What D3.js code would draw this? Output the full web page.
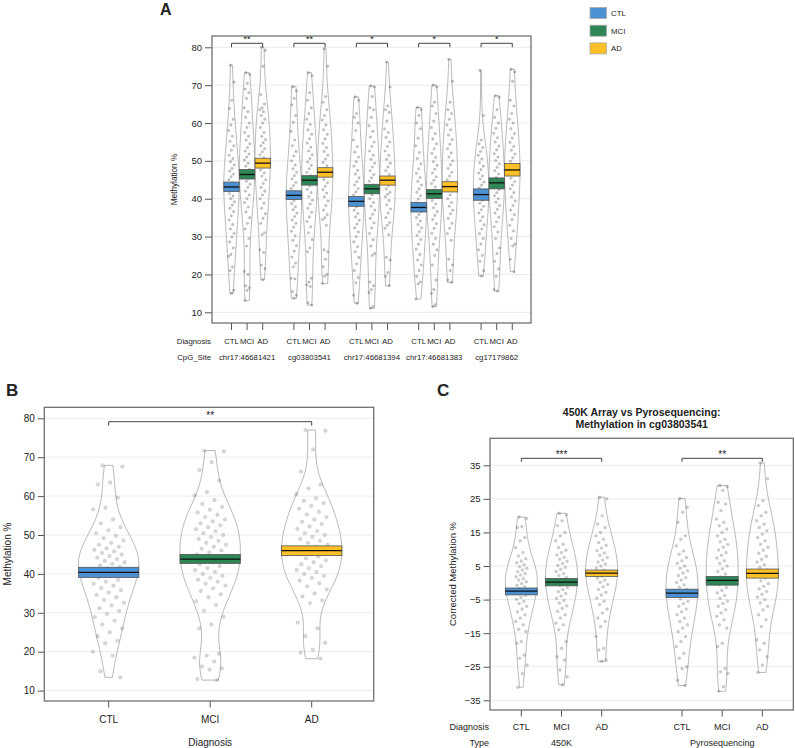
<!DOCTYPE html>
<html><head><meta charset="utf-8">
<script src="https://cdn.jsdelivr.net/npm/d3@7"></script>
<style>body{margin:0;background:#fff}text{font-family:"Liberation Sans",Arial,Helvetica,sans-serif;fill:#222}</style>
</head><body><svg id="c" width="795" height="748"></svg>
<script>
// ---------------- DATA ----------------
const diagnoses = ["CTL","MCI","AD"];
const sitesA = ["chr17:46681421","cg03803541","chr17:46681394","chr17:46681383","cg17179862"];
const starsA = ["**","**","*","*","*"];
const meanA = [[43.1,46.4,49.4],[40.9,44.9,47.0],[39.3,42.6,44.9],[37.7,41.3,43.2],[41.1,44.2,47.6]];
const ciLoA = [[41.9,45.2,48.1],[39.8,43.6,45.7],[38.0,41.3,43.6],[36.5,40.1,41.8],[39.6,42.6,46.0]];
const ciHiA = [[44.4,47.7,50.7],[42.1,46.1,48.2],[40.6,43.8,46.0],[39.0,42.4,44.5],[42.6,45.5,49.3]];
const ticksA = [10,20,30,40,50,60,70,80];
const pointsA = [
 [[75.3,70.8,66.0,63.8,61.0,59.5,58.0,56.5,55.2,54.0,52.8,51.5,50.6,49.8,48.9,48.0,47.3,46.5,45.8,45.0,44.3,43.6,42.9,42.2,41.4,40.7,40.0,39.2,38.3,37.5,36.6,35.5,34.4,33.2,32.0,30.8,29.9,28.6,27.0,25.3,24.8,22.0,21.0,15.8,15.0],
  [73.3,72.8,70.5,69.0,68.0,66.5,64.0,63.0,61.5,60.0,58.8,57.5,56.5,55.5,54.5,53.5,52.6,51.8,51.0,50.2,49.4,48.6,47.8,47.0,46.2,45.4,44.6,43.8,43.0,42.0,41.0,40.0,39.0,37.8,36.5,35.0,33.5,32.0,29.5,27.5,20.8,20.0,17.0,16.5,15.8,13.1],
  [80.0,79.2,75.0,67.5,65.0,64.0,63.5,63.0,62.0,61.0,60.0,58.8,57.5,56.5,55.6,54.8,54.0,53.2,52.4,51.6,50.8,50.0,49.2,48.4,47.6,46.8,46.0,45.0,44.0,43.0,42.0,41.0,40.0,38.8,37.5,36.0,34.8,33.5,31.0,30.5,26.5,25.8,22.5,21.5,18.6]],
 [[69.6,68.5,66.5,64.8,62.0,60.2,57.8,55.5,54.0,52.5,51.3,50.0,48.9,47.9,47.0,46.1,45.2,44.3,43.5,42.7,41.9,41.1,40.3,39.5,38.7,37.9,37.1,36.2,35.3,34.4,33.5,32.5,31.4,30.2,29.0,27.6,26.2,24.6,23.0,22.0,19.0,18.8,15.5,14.5,13.7],
  [73.3,72.5,68.0,66.0,64.0,62.5,61.0,59.6,58.2,57.0,55.8,54.7,53.6,52.6,51.6,50.6,49.7,48.8,47.9,47.0,46.1,45.2,44.3,43.4,42.5,41.6,40.6,39.6,38.6,37.5,36.4,35.2,34.0,32.6,31.0,29.2,27.0,26.0,19.0,18.0,17.2,16.8,12.5,11.9],
  [79.6,75.0,67.0,65.5,63.5,62.0,60.8,59.5,58.2,57.0,55.8,54.6,53.5,52.5,51.5,50.5,49.6,48.7,47.8,46.9,46.0,45.1,44.2,43.3,42.4,41.5,40.5,39.4,38.2,37.0,35.8,35.0,34.5,33.0,26.5,26.0,24.0,22.0,20.0,19.5,17.6]],
 [[66.9,66.0,62.5,61.5,60.0,58.0,55.5,53.8,52.3,51.0,49.8,48.6,47.5,46.5,45.5,44.5,43.6,42.7,41.8,41.0,40.2,39.4,38.6,37.8,37.0,36.1,35.2,34.3,33.3,32.3,31.2,30.0,28.6,27.3,26.0,24.5,22.8,21.0,19.2,17.8,14.5,12.4],
  [69.8,69.5,67.0,64.0,63.5,61.5,59.3,57.8,56.3,55.0,53.8,52.6,51.5,50.4,49.4,48.4,47.4,46.4,45.5,44.6,43.7,42.8,41.9,41.0,40.0,39.0,38.0,37.0,35.9,34.8,33.6,32.3,30.8,29.2,27.5,25.5,25.0,18.0,17.0,16.0,15.2,11.5,11.05],
  [76.1,69.5,64.5,63.5,62.8,60.5,58.5,57.5,56.2,55.0,53.8,52.6,51.5,50.4,49.4,48.4,47.4,46.4,45.4,44.4,43.5,42.6,41.7,41.2,40.5,39.5,38.4,37.3,36.2,35.0,33.7,33.0,32.2,30.5,24.5,23.8,20.5,19.5,17.0]],
 [[64.1,63.5,62.0,60.0,58.5,56.0,54.0,52.2,50.6,49.2,47.9,46.7,45.6,44.6,43.6,42.6,41.7,40.8,39.9,39.0,38.2,37.4,36.6,35.8,35.0,34.1,33.2,32.3,31.3,30.3,29.2,28.0,26.7,25.3,23.8,22.5,21.0,19.5,18.0,17.5,13.5],
  [70.0,69.5,65.5,64.5,62.5,60.5,58.8,57.2,55.8,54.5,53.2,52.0,50.9,49.8,48.8,47.8,46.8,45.8,44.9,44.0,43.1,42.2,41.3,40.4,39.5,38.6,37.6,36.6,35.6,34.5,33.4,32.2,30.9,29.5,28.0,26.5,25.0,22.5,18.5,16.0,15.0,12.0,11.5],
  [76.8,71.0,65.5,63.5,62.5,61.0,59.5,58.2,56.8,55.6,54.4,53.2,52.1,51.0,50.0,49.0,48.0,47.0,46.0,45.0,44.0,43.0,42.0,41.0,40.0,39.0,38.0,37.0,36.0,34.8,33.5,32.2,30.8,29.0,24.0,22.5,21.0,18.5,17.9]],
 [[73.9,62.0,55.5,54.5,53.5,52.5,51.5,50.5,49.5,48.6,47.7,46.8,46.0,45.2,44.4,43.6,42.8,42.0,41.2,40.4,39.6,38.8,38.0,37.1,36.2,35.2,34.2,33.1,32.0,30.8,29.5,28.0,26.5,25.0,23.5,21.0,19.6],
  [67.2,66.8,63.5,61.5,60.0,58.6,57.3,56.1,55.0,53.9,52.9,51.9,51.0,50.1,49.2,48.3,47.4,46.5,45.6,44.8,44.0,43.2,42.4,41.6,40.8,40.0,39.1,38.2,37.2,36.2,35.1,33.9,32.6,31.2,29.5,27.0,25.5,23.5,21.5,19.5,16.0,15.6],
  [74.2,73.5,71.0,66.0,64.5,62.5,61.0,60.0,58.5,57.2,56.0,54.9,53.8,52.8,51.8,50.8,49.9,49.0,48.1,47.2,46.3,45.4,44.5,43.6,42.6,41.6,40.5,39.4,38.2,37.0,35.8,34.5,33.0,31.5,29.5,28.0,27.5,24.0,20.7]]
];

const meanB = [40.4,43.8,46.0];
const ciLoB = [39.1,42.7,44.7];
const ciHiB = [41.7,45.0,47.2];
const starsB = "**";
const ticksB = [10,20,30,40,50,60,70,80];
const pointsB = [
 [67.9,67.6,63.5,63.0,59.6,57.0,56.6,54.0,53.0,52.0,51.2,50.5,49.8,49.2,48.6,48.0,47.5,47.0,46.6,46.2,45.8,45.4,45.0,44.6,44.2,43.8,43.4,43.0,42.6,42.2,41.8,41.4,41.0,40.6,40.2,39.8,39.4,39.0,38.5,38.0,37.5,37.0,36.4,35.8,35.2,34.6,34.0,33.3,32.6,31.9,31.2,30.5,29.7,28.9,28.0,27.0,26.0,25.0,24.0,22.8,22.2,20.0,19.0,15.0,13.4],
 [71.7,71.5,68.7,66.7,64.0,61.0,60.2,59.0,58.0,57.2,56.5,55.8,55.2,54.6,54.0,53.5,53.0,52.5,52.0,51.5,51.0,50.5,50.0,49.5,49.0,48.5,48.0,47.5,47.0,46.5,46.0,45.5,45.0,44.5,44.0,43.5,43.0,42.5,42.0,41.5,41.0,40.5,40.0,39.5,39.0,38.5,38.0,37.5,37.0,36.3,35.6,34.8,34.0,33.0,32.0,30.5,29.0,27.0,26.0,19.5,19.0,18.5,17.5,16.2,15.7,15.4,13.0,12.7],
 [77.0,76.8,72.0,66.3,63.0,62.0,60.5,59.5,58.8,58.2,57.5,56.8,56.0,55.3,54.6,54.0,53.4,52.8,52.2,51.6,51.0,50.5,50.0,49.5,49.0,48.5,48.0,47.5,47.0,46.5,46.0,45.5,45.0,44.5,44.0,43.5,43.0,42.5,42.0,41.5,41.0,40.5,40.0,39.5,39.0,38.3,37.6,36.8,36.0,35.0,34.2,33.2,32.5,27.5,26.0,24.0,22.3,20.5,19.8,18.2]
];

const typesC = ["450K","Pyrosequencing"];
const starsC = ["***","**"];
const meanC = [[-2.5,0.2,2.9],[-3.1,0.7,2.8]];
const ciLoC = [[-3.6,-0.9,1.9],[-4.4,-0.7,1.4]];
const ciHiC = [[-1.55,1.3,3.8],[-1.9,1.9,4.1]];
const ticksC = [-35,-25,-15,-5,5,15,25,35];
const pointsC = [
 [[19.6,19.2,16.8,16.5,13.5,12.5,10.5,9.0,8.0,7.2,6.5,6.0,5.4,4.8,4.3,3.8,3.3,2.8,2.3,1.8,1.3,0.8,0.3,-0.2,-0.7,-1.2,-1.7,-2.2,-2.7,-3.2,-3.7,-4.3,-4.9,-5.5,-6.2,-7.0,-7.8,-8.6,-9.5,-10.5,-11.5,-12.5,-13.8,-14.5,-17.5,-18.0,-21.5,-22.5,-24.5,-27.0,-31.1],
  [20.7,20.3,18.5,17.0,15.0,14.0,12.5,11.5,10.5,9.7,9.0,8.3,7.6,7.0,6.4,5.8,5.2,4.6,4.0,3.4,2.8,2.2,1.6,1.0,0.4,-0.2,-0.8,-1.4,-2.0,-2.6,-3.2,-3.9,-4.6,-5.3,-6.0,-6.8,-7.6,-8.5,-9.5,-10.5,-12.0,-12.5,-14.0,-17.5,-19.5,-22.0,-23.0,-26.0,-28.0,-30.4],
  [25.5,25.0,20.0,17.5,16.5,15.0,14.0,13.0,12.0,11.2,10.4,9.6,8.9,8.2,7.5,6.8,6.2,5.6,5.0,4.4,3.8,3.2,2.6,2.0,1.4,0.8,0.2,-0.5,-1.2,-2.0,-2.8,-3.6,-4.5,-5.5,-6.5,-7.8,-9.0,-10.5,-11.5,-13.0,-16.0,-19.5,-20.0,-23.0,-23.4]],
 [[25.1,22.5,21.0,18.0,14.0,13.0,11.0,9.5,8.5,7.5,6.6,5.8,5.0,4.3,3.6,2.9,2.2,1.5,0.8,0.1,-0.6,-1.3,-2.0,-2.7,-3.4,-4.1,-4.8,-5.5,-6.2,-7.0,-7.8,-8.6,-9.5,-10.5,-11.5,-12.5,-13.5,-14.5,-16.0,-17.5,-19.0,-21.0,-22.5,-25.0,-25.5,-29.0,-30.6],
  [29.0,28.7,27.5,24.0,23.5,21.5,19.0,18.0,17.0,16.0,15.0,14.0,13.0,12.2,11.4,10.6,9.8,9.0,8.2,7.4,6.6,5.8,5.0,4.2,3.4,2.6,1.8,1.0,0.2,-0.6,-1.4,-2.2,-3.0,-3.8,-4.6,-5.4,-6.2,-7.0,-8.0,-9.0,-10.0,-11.0,-12.5,-13.5,-18.0,-19.0,-25.5,-26.5,-27.0,-31.0,-32.3],
  [35.7,31.0,24.5,23.0,21.0,20.0,18.5,17.5,16.5,15.5,14.5,13.5,12.5,11.5,10.6,9.7,8.8,7.9,7.0,6.2,5.4,4.6,3.8,3.0,2.2,1.4,0.6,-0.2,-1.0,-1.8,-2.6,-3.4,-4.2,-5.0,-6.0,-7.0,-8.0,-9.5,-11.0,-13.0,-17.0,-18.0,-20.0,-22.0,-24.5,-26.7]]
];

// ---------------- STYLE ----------------
const fillColors = {CTL:"#4a90d2", MCI:"#2e8555", AD:"#fcbf26"};
const bwAdjust = 1.0;
const svg = d3.select("#c");

function nrd0(v){
  const s = v.slice().sort(d3.ascending);
  const sd = d3.deviation(s);
  const iqr = d3.quantile(s,0.75)-d3.quantile(s,0.25);
  const lo = Math.min(sd, iqr/1.34) || sd;
  return 0.9*lo*Math.pow(s.length,-0.2);
}
function beanPath(values, cx, y, halfW){
  const bw = nrd0(values)*bwAdjust;
  const lo = d3.min(values), hi = d3.max(values);
  const N = 100, dens = [];
  for(let i=0;i<=N;i++){
    const t = lo+(hi-lo)*i/N;
    let d=0; for(const x of values){ const u=(t-x)/bw; d+=Math.exp(-0.5*u*u); }
    dens.push([t,d]);
  }
  const mx = d3.max(dens,d=>d[1]);
  const right = dens.map(d=>[cx + d[1]/mx*halfW, y(d[0])]);
  const left = dens.slice().reverse().map(d=>[cx - d[1]/mx*halfW, y(d[0])]);
  return d3.line()(right.concat(left))+"Z";
}

function panel(o){
  const g = svg.append("g");
  const x = d3.scaleLinear().domain(o.xDom).range([o.l,o.r]);
  const y = d3.scaleLinear().domain(o.yDom).range(o.yRange);
  g.selectAll(".grid").data(o.ticks).join("line")
    .attr("x1",o.l).attr("x2",o.r).attr("y1",d=>y(d)).attr("y2",d=>y(d))
    .attr("stroke","#ececec").attr("stroke-width",1);
  const ya = d3.axisLeft(y).tickValues(o.ticks).tickSize(o.tick).tickPadding(3)
    .tickFormat(d=>d<0?"\u2212"+Math.abs(d):String(d));
  const yg = g.append("g").attr("transform",`translate(${o.l},0)`).call(ya);
  yg.select(".domain").remove();
  yg.selectAll("line").attr("stroke","#555");
  yg.selectAll("text").attr("font-size",o.tickFont).attr("fill","#222").style("font-family","Liberation Sans, Arial");
  o.groups.forEach(gr=>{
    const cx = x(gr.pos);
    g.append("path").attr("d",beanPath(gr.values,cx,y,o.halfW))
      .attr("fill","none").attr("stroke","#9a9a9a").attr("stroke-width",0.7);
    g.append("g").selectAll("circle").data(gr.values).join("circle")
      .attr("cx",(d,i)=>cx + (((i*0.6180339887+0.31)%1)-0.5)*2*o.jit)
      .attr("cy",d=>y(d)).attr("r",o.pr)
      .attr("fill","#4a4a4a").attr("fill-opacity",o.pa)
      .attr("stroke","#4a4a4a").attr("stroke-opacity",o.pa*0.8).attr("stroke-width",0.4);
  });
  o.groups.forEach(gr=>{
    const cx = x(gr.pos);
    g.append("rect").attr("x",cx-o.halfW).attr("width",2*o.halfW)
      .attr("y",y(gr.hi)).attr("height",y(gr.lo)-y(gr.hi))
      .attr("fill",fillColors[gr.diag]).attr("stroke","#555").attr("stroke-width",0.8);
    g.append("line").attr("x1",cx-o.halfW).attr("x2",cx+o.halfW)
      .attr("y1",y(gr.mean)).attr("y2",y(gr.mean)).attr("stroke","#111").attr("stroke-width",1.3);
  });
  o.brackets.forEach(br=>{
    const x1=x(br.p1), x2=x(br.p2);
    g.append("path").attr("d",`M${x1},${br.y+o.leg}V${br.y}H${x2}V${br.y+o.leg}`)
      .attr("fill","none").attr("stroke","#444").attr("stroke-width",1);
    g.append("text").attr("x",(x1+x2)/2).attr("y",br.y+o.starDy).attr("text-anchor","middle")
      .attr("font-size",o.starFont).text(br.s);
  });
  g.selectAll(".xt").data(o.groups).join("line")
    .attr("x1",d=>x(d.pos)).attr("x2",d=>x(d.pos)).attr("y1",o.b).attr("y2",o.b+o.tick)
    .attr("stroke","#555");
  g.append("rect").attr("x",o.l).attr("y",o.t).attr("width",o.r-o.l).attr("height",o.b-o.t)
    .attr("fill","none").attr("stroke","#707070").attr("stroke-width",1.3);
  return {g,x,y};
}

// ---------------- PANEL A ----------------
{
  const groups=[], brackets=[];
  sitesA.forEach((s,si)=>{
    diagnoses.forEach((d,di)=>{
      groups.push({pos:si*4+di+1, diag:d, values:pointsA[si][di], mean:meanA[si][di], lo:ciLoA[si][di], hi:ciHiA[si][di]});
    });
    brackets.push({p1:si*4+1,p2:si*4+3,y:43.3,s:starsA[si]});
  });
  const P = panel({l:212,r:531,t:36,b:323,xDom:[-0.25,20.2],yDom:[10,80],yRange:[312.3,47.3],ticks:ticksA,
    tick:7,tickFont:9.5,halfW:7.7,jit:3,pr:1.3,pa:0.33,groups,brackets,leg:4,starDy:-1.5,starFont:9});
  const g=P.g, x=P.x;
  groups.forEach(gr=>{
    g.append("text").attr("x",x(gr.pos)).attr("y",343.5).attr("text-anchor","middle").attr("font-size",7.8).text(gr.diag);
  });
  sitesA.forEach((s,si)=>{
    g.append("text").attr("x",x(si*4+2)).attr("y",360).attr("text-anchor","middle").attr("font-size",7.8).text(s);
  });
  g.append("text").attr("x",211).attr("y",343.5).attr("text-anchor","end").attr("font-size",7.8).text("Diagnosis");
  g.append("text").attr("x",211).attr("y",360).attr("text-anchor","end").attr("font-size",7.8).text("CpG_Site");
  g.append("text").attr("transform","translate(177,179.5) rotate(-90)").attr("text-anchor","middle").attr("font-size",8.2).text("Methylation %");
  svg.append("text").attr("x",160).attr("y",14.5).attr("font-size",16).attr("font-weight","bold").text("A");
  diagnoses.forEach((d,i)=>{
    svg.append("rect").attr("x",590).attr("y",7.5+i*17.7).attr("width",16.5).attr("height",11)
      .attr("fill",fillColors[d]).attr("stroke","#aaa").attr("stroke-width",0.8);
    svg.append("text").attr("x",611).attr("y",16+i*17.7).attr("font-size",7.8).text(d);
  });
}

// ---------------- PANEL B ----------------
{
  const groups = diagnoses.map((d,i)=>({pos:i+1,diag:d,values:pointsB[i],mean:meanB[i],lo:ciLoB[i],hi:ciHiB[i]}));
  const P = panel({l:44.3,r:373.7,t:407.3,b:701,xDom:[0.366,3.611],yDom:[10,80],yRange:[690.6,418.3],ticks:ticksB,
    tick:6.5,tickFont:10,halfW:30.2,jit:16,pr:1.9,pa:0.22,groups,brackets:[{p1:1,p2:3,y:421.7,s:starsB}],leg:4,starDy:-2.5,starFont:10});
  const g=P.g, x=P.x;
  groups.forEach(gr=>{
    g.append("text").attr("x",x(gr.pos)).attr("y",722.5).attr("text-anchor","middle").attr("font-size",10).text(gr.diag);
  });
  g.append("text").attr("x",x(2)).attr("y",745.5).attr("text-anchor","middle").attr("font-size",10).text("Diagnosis");
  g.append("text").attr("transform","translate(11,554) rotate(-90)").attr("text-anchor","middle").attr("font-size",10).text("Methylation %");
  svg.append("text").attr("x",6).attr("y",396).attr("font-size",17).attr("font-weight","bold").text("B");
}

// ---------------- PANEL C ----------------
{
  const groups=[], brackets=[];
  typesC.forEach((t,ti)=>{
    diagnoses.forEach((d,di)=>{
      groups.push({pos:ti*4+di+1,diag:d,values:pointsC[ti][di],mean:meanC[ti][di],lo:ciLoC[ti][di],hi:ciHiC[ti][di]});
    });
    brackets.push({p1:ti*4+1,p2:ti*4+3,y:458.3,s:starsC[ti]});
  });
  const P = panel({l:490,r:793.3,t:438.3,b:710,xDom:[0.22,7.77],yDom:[-35,35],yRange:[700.3,465.3],ticks:ticksC,
    tick:6.5,tickFont:9.5,halfW:16,jit:6,pr:1.5,pa:0.27,groups,brackets,leg:3.5,starDy:-0.5,starFont:10});
  const g=P.g, x=P.x;
  groups.forEach(gr=>{
    g.append("text").attr("x",x(gr.pos)).attr("y",729.5).attr("text-anchor","middle").attr("font-size",9).text(gr.diag);
  });
  typesC.forEach((t,ti)=>{
    g.append("text").attr("x",x(ti*4+2)).attr("y",745.5).attr("text-anchor","middle").attr("font-size",9).text(t);
  });
  g.append("text").attr("x",489).attr("y",729.5).attr("text-anchor","end").attr("font-size",9).text("Diagnosis");
  g.append("text").attr("x",489).attr("y",745.5).attr("text-anchor","end").attr("font-size",9).text("Type");
  g.append("text").attr("transform","translate(456,574) rotate(-90)").attr("text-anchor","middle").attr("font-size",9.5).text("Corrected Methylation %");
  svg.append("text").attr("x",641.7).attr("y",415.5).attr("text-anchor","middle").attr("font-size",10.5).attr("font-weight","bold").text("450K Array vs Pyrosequencing:");
  svg.append("text").attr("x",641.7).attr("y",427.5).attr("text-anchor","middle").attr("font-size",10.5).attr("font-weight","bold").text("Methylation in cg03803541");
  svg.append("text").attr("x",437).attr("y",396).attr("font-size",17).attr("font-weight","bold").text("C");
}
</script></body></html>
